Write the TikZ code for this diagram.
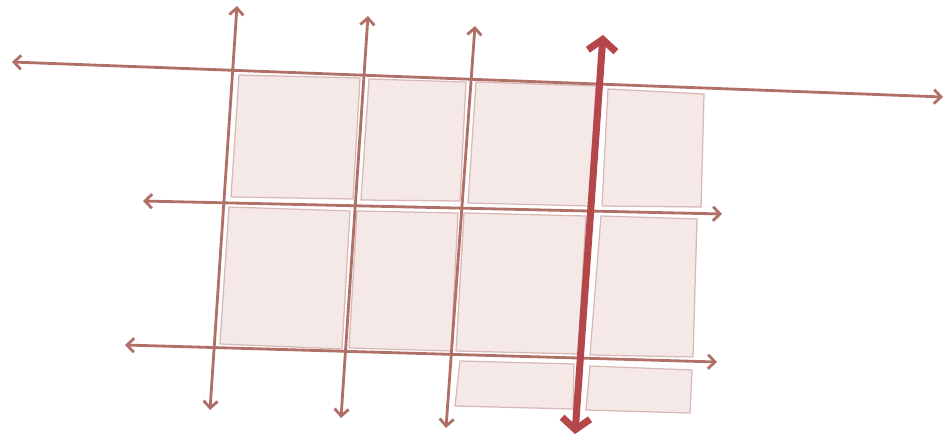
\documentclass[tikz,border=0pt]{standalone}
\usepackage{xcolor}
\usetikzlibrary{arrows.meta}
\definecolor{gridline}{HTML}{B07068}
\definecolor{cellfill}{HTML}{F5E9E8}
\definecolor{celledge}{HTML}{D8B9B7}
\definecolor{accent}{HTML}{B4474A}

\begin{document}
\begin{tikzpicture}[x=0.025cm,y=-0.025cm,
  axis/.style={draw=gridline,line width=2pt,{Straight Barb[length=5pt,width=10pt]}-{Straight Barb[length=5pt,width=10pt]}},
  bigaxis/.style={draw=accent,line width=5pt,{Straight Barb[length=8pt,width=20pt]}-{Straight Barb[length=8pt,width=20pt]}},
  cell/.style={fill=cellfill,draw=celledge,line width=0.9pt}]
\useasboundingbox (0,0) rectangle (943,438);
% cells
\foreach \a/\b/\c/\d/\e/\f/\g/\h in {%
  239/75/360/78/353/199/231/197,
  369/79/466/82/460/201/361/200,
  476/82/596/86/589/206/468/203,
  608/89/704/94/701/207/602/206,
  229/207/350/211/342/349/220/344,
  357/211/458/213/451/351/349/348,
  464/213/586/216/578/354/456/351,
  601/216/697/219/693/357/590/355,
  460/361/574/364/573/409/455/406,
  590/366/692/370/690/413/586/410}{
  \draw[cell] (\a,\b) -- (\c,\d) -- (\e,\f) -- (\g,\h) -- cycle;
}
% end points
\coordinate (h1w) at (12,62);   \coordinate (h1e) at (943,97);
\coordinate (h2w) at (143,201); \coordinate (h2e) at (722,214);
\coordinate (h3w) at (125,345); \coordinate (h3e) at (717,362);
\coordinate (v1n) at (237,6);   \coordinate (v1s) at (210,410);
\coordinate (v2n) at (368,16);  \coordinate (v2s) at (341,418);
\coordinate (v3n) at (475,26);  \coordinate (v3s) at (446,428);
\coordinate (v4n) at (603,35);  \coordinate (v4s) at (575,434);
% axes
\foreach \p in {h1,h2,h3}
  \draw[axis] (\p w) -- (\p e);
\foreach \p in {v1,v2,v3}
  \draw[axis] (\p n) -- (\p s);
\draw[bigaxis] (v4n) -- (v4s);
\end{tikzpicture}
\end{document}
